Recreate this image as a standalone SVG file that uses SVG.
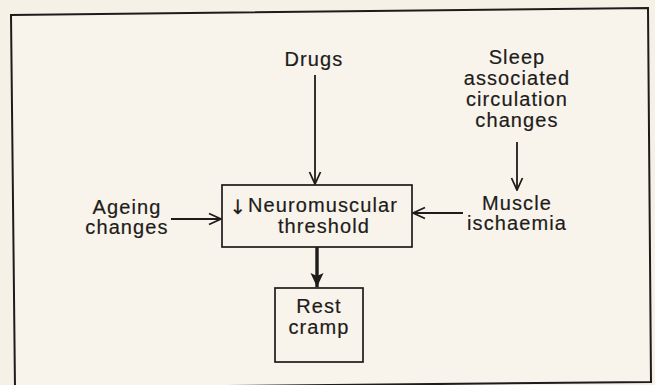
<svg xmlns="http://www.w3.org/2000/svg" width="655" height="385" viewBox="0 0 655 385">
<style>
text{font-family:"Liberation Sans",Arial,sans-serif;font-size:20px;fill:#1e1c1a;stroke:#1e1c1a;stroke-width:0.2;letter-spacing:1.1px;text-anchor:middle}
.box{fill:none;stroke:#1e1c1a;stroke-width:1.7}
.c{fill:none;stroke:#1e1c1a;stroke-width:1.8}
.thick{fill:none;stroke:#1e1c1a;stroke-width:3.4}
</style>
<defs>
<marker id="ah" viewBox="0 0 14 14" refX="13" refY="7" markerWidth="14" markerHeight="14" markerUnits="userSpaceOnUse" orient="auto">
<path d="M1,1.5 L13,7 L1,12.5" fill="none" stroke="#1e1c1a" stroke-width="1.8"/>
</marker>
<marker id="ahb" viewBox="0 0 16 16" refX="15" refY="8" markerWidth="16" markerHeight="16" markerUnits="userSpaceOnUse" orient="auto">
<path d="M1,1.5 L15,8 L1,14.5 L4,8 Z" fill="#1e1c1a"/>
</marker>
</defs>
<rect width="655" height="385" fill="#f6f1e7"/>
<polygon points="11,15 648,8 651,382 15,388" fill="#f8f4ec" stroke="#1e1c1a" stroke-width="2"/>
<g id="connectors">
<line class="c" x1="315" y1="75" x2="315" y2="184" marker-end="url(#ah)"/>
<line class="c" x1="171" y1="219" x2="221" y2="219" marker-end="url(#ah)"/>
<line class="c" x1="517" y1="142" x2="517" y2="190" marker-end="url(#ah)"/>
<line class="c" x1="463" y1="213" x2="413" y2="213" marker-end="url(#ah)"/>
<line class="thick" x1="317" y1="247" x2="317" y2="287" marker-end="url(#ahb)"/>
</g>
<g id="drugs"><text x="314" y="66">Drugs</text></g>
<g id="sleep">
<text x="517" y="64">Sleep</text>
<text x="517" y="85">associated</text>
<text x="517" y="106">circulation</text>
<text x="517" y="127">changes</text>
</g>
<g id="ageing">
<text x="127" y="214">Ageing</text>
<text x="127" y="234">changes</text>
</g>
<g id="muscle">
<text x="517" y="210">Muscle</text>
<text x="517" y="230">ischaemia</text>
</g>
<g id="threshold">
<rect class="box" x="222" y="185" width="190" height="62"/>
<text x="238" y="214" style="letter-spacing:0;font-family:'DejaVu Sans',sans-serif;font-size:20px">↓</text>
<text x="248" y="212" style="text-anchor:start">Neuromuscular</text>
<text x="324" y="233">threshold</text>
</g>
<g id="rest">
<rect class="box" x="275" y="288" width="88" height="74"/>
<text x="319" y="313">Rest</text>
<text x="319" y="334">cramp</text>
</g>
</svg>
